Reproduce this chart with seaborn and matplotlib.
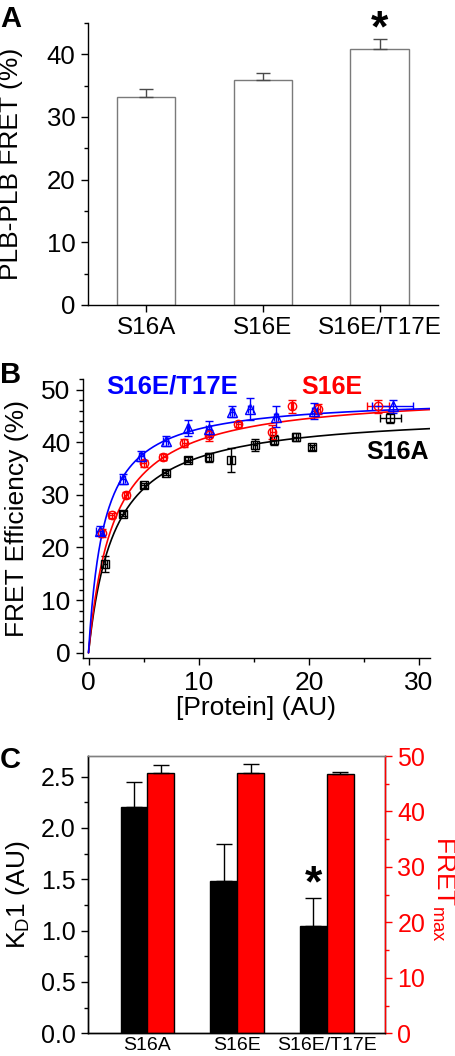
import numpy as np
import pandas as pd
import matplotlib
matplotlib.use("Agg")
import matplotlib.pyplot as plt
from matplotlib.ticker import MultipleLocator, FormatStrFormatter
import seaborn as sns

# ---- panel A: PLB-PLB FRET ----
mutants = ["S16A", "S16E", "S16E/T17E"]
plb_fret = [33.2, 35.9, 40.8]
plb_fret_err = [1.2, 1.1, 1.6]

# ---- panel B: binding curves ----
s16a_x = [1.5, 3.1, 5.0, 7.0, 9.0, 10.9, 12.9, 15.1, 16.8, 18.8, 20.3, 27.4]
s16a_y = [16.9, 26.4, 31.8, 34.2, 36.7, 37.1, 36.6, 39.5, 40.4, 41.0, 39.0, 44.6]
s16a_yerr = [1.5, 0.5, 0.5, 0.5, 0.5, 0.8, 2.3, 1.1, 1.0, 0.8, 0.4, 1.0]
s16a_xerr = [0.2, 0.2, 0.2, 0.2, 0.2, 0.2, 0.1, 0.2, 0.2, 0.2, 0.2, 0.95]

s16e_x = [1.2, 2.1, 3.4, 5.0, 6.8, 8.7, 10.9, 13.6, 16.7, 18.5, 20.8, 26.3]
s16e_y = [22.8, 26.1, 29.9, 36.0, 37.2, 39.8, 41.3, 43.4, 41.9, 46.8, 46.3, 46.8]
s16e_yerr = [0.8, 0.5, 0.6, 0.7, 0.6, 0.8, 1.0, 0.5, 1.3, 1.2, 0.9, 1.2]
s16e_xerr = [0.2, 0.2, 0.2, 0.2, 0.2, 0.2, 0.2, 0.2, 0.2, 0.1, 0.2, 1.0]

dbl_x = [1.0, 3.1, 4.8, 7.0, 9.0, 10.9, 13.0, 14.7, 17.0, 20.5, 27.6]
dbl_y = [23.2, 33.0, 37.4, 40.2, 42.7, 42.5, 45.8, 46.3, 44.8, 45.9, 46.8]
dbl_yerr = [0.8, 1.0, 1.0, 1.0, 1.6, 1.6, 1.0, 2.0, 2.0, 1.5, 1.3]
dbl_xerr = [0.3, 0.2, 0.2, 0.2, 0.1, 0.2, 0.2, 0.2, 0.2, 0.2, 1.9]

# hyperbolic fits: FRET = fmax * x / (kd + x)
fit_fmax = {"S16A": 45.8, "S16E": 49.6, "S16E/T17E": 48.5}
fit_kd = {"S16A": 2.35, "S16E": 2.29, "S16E/T17E": 1.41}

# ---- panel C: fit parameters ----
kd1 = [2.2, 1.48, 1.045]
kd1_err = [0.245, 0.36, 0.27]
fret_max = [46.9, 46.9, 46.7]
fret_max_err = [1.4, 1.6, 0.5]

BLUE = "#0000ff"
RED = "#ff0000"

sns.set_theme(style="ticks")
plt.rcParams["font.family"] = ["Liberation Sans", "DejaVu Sans"]
plt.rcParams.update({
    "axes.linewidth": 1.0,
    "xtick.major.size": 5, "ytick.major.size": 5,
    "xtick.minor.size": 3, "ytick.minor.size": 3,
    "xtick.major.width": 1, "ytick.major.width": 1,
    "xtick.minor.width": 1, "ytick.minor.width": 1,
    "xtick.color": "black", "ytick.color": "black",
    "axes.edgecolor": "black", "text.color": "black",
    "axes.labelcolor": "black",
    "mathtext.fontset": "custom", "mathtext.rm": "Liberation Sans",
    "mathtext.it": "Liberation Sans", "mathtext.bf": "Liberation Sans:bold",
})

W, H = 456, 1056
fig = plt.figure(figsize=(W / 100, H / 100), dpi=100)

def box(l, t, r, b):
    return [l / W, 1 - b / H, (r - l) / W, (b - t) / H]

# ================= A =================
axA = fig.add_axes(box(88, 23, 438, 305))
sns.barplot(x=mutants, y=plb_fret, ax=axA, color="white", saturation=1,
            edgecolor="#7a7a7a", linewidth=1, width=0.5)
axA.errorbar(range(3), plb_fret, yerr=[[0] * 3, plb_fret_err], fmt="none",
             ecolor="#4a4a4a", elinewidth=1, capsize=5, capthick=1)
axA.set_xlim(-0.5, 2.5)
axA.set_ylim(0, 45)
axA.yaxis.set_major_locator(MultipleLocator(10))
axA.yaxis.set_minor_locator(MultipleLocator(5))
axA.tick_params(axis="y", labelsize=18.5, pad=4)
axA.tick_params(axis="x", labelsize=17.5, pad=4)
sns.despine(ax=axA)
axA.set_ylabel("PLB-PLB FRET (%)", fontsize=19)
axA.yaxis.set_label_coords(-0.185, 0.5)
axA.text(2, 42.0, "*", ha="center", va="baseline", fontsize=32,
         fontweight="bold")

# ================= B =================
axB = fig.add_axes(box(83, 379, 430, 658))
series = [
    ("S16A", s16a_x, s16a_y, s16a_xerr, s16a_yerr, "s", "black", 5.5),
    ("S16E", s16e_x, s16e_y, s16e_xerr, s16e_yerr, "o", RED, 6),
    ("S16E/T17E", dbl_x, dbl_y, dbl_xerr, dbl_yerr, "^", BLUE, 7),
]
xfit = np.linspace(0, 31, 400)
for name, xs, ys, xe, ye, mk, c, ms in series:
    axB.errorbar(xs, ys, yerr=ye, xerr=xe, fmt=mk, mfc="none", mec=c,
                 ecolor=c, ms=ms, mew=1, elinewidth=1, capsize=3, capthick=1)
for name, xs, ys, xe, ye, mk, c, ms in series:
    fit = pd.DataFrame({"x": xfit,
                        "y": fit_fmax[name] * xfit / (fit_kd[name] + xfit)})
    sns.lineplot(data=fit, x="x", y="y", ax=axB, color=c, lw=1.2)
axB.set_xlim(-0.5, 31)
axB.set_ylim(-1, 52)
axB.xaxis.set_major_locator(MultipleLocator(10))
axB.xaxis.set_minor_locator(MultipleLocator(5))
axB.yaxis.set_major_locator(MultipleLocator(10))
axB.yaxis.set_minor_locator(MultipleLocator(2))
axB.tick_params(labelsize=19, pad=4)
sns.despine(ax=axB)
axB.set_xlabel("[Protein] (AU)", fontsize=19)
axB.set_ylabel("FRET Efficiency (%)", fontsize=19)
axB.xaxis.set_label_coords(0.5, -0.135)
axB.yaxis.set_label_coords(-0.155, 0.5)
axB.text(1.6, 50.5, "S16E/T17E", color=BLUE, fontsize=18.5,
         fontweight="bold", va="center", ha="left")
axB.text(19.3, 50.5, "S16E", color=RED, fontsize=18,
         fontweight="bold", va="center", ha="left")
axB.text(30.9, 38.2, "S16A", color="black", fontsize=18,
         fontweight="bold", va="center", ha="right")

# ================= C =================
axC = fig.add_axes(box(88.3, 756, 385, 1033.3))
pos = np.arange(3)
sns.barplot(x=pos - 0.15, y=kd1, ax=axC, native_scale=True, width=0.3,
            color="black", saturation=1, edgecolor="black", linewidth=1)
axC.errorbar(pos - 0.15, kd1, yerr=[[0] * 3, kd1_err], fmt="none",
             ecolor="black", elinewidth=1, capsize=6, capthick=1)
axC2 = axC.twinx()
sns.barplot(x=pos + 0.15, y=fret_max, ax=axC2, native_scale=True, width=0.3,
            color=RED, saturation=1, edgecolor="black", linewidth=1)
axC2.errorbar(pos + 0.15, fret_max, yerr=[[0] * 3, fret_max_err], fmt="none",
              ecolor="black", elinewidth=1, capsize=6, capthick=1)
for a in (axC, axC2):
    a.set_xlim(-0.66, 2.65)
axC.set_xticks(pos)
axC.set_xticklabels(mutants)
axC.set_ylim(0, 2.7)
axC.yaxis.set_major_locator(MultipleLocator(0.5))
axC.yaxis.set_minor_locator(MultipleLocator(0.25))
axC.yaxis.set_major_formatter(FormatStrFormatter("%.1f"))
axC.tick_params(axis="y", labelsize=18, pad=4)
axC.tick_params(axis="x", labelsize=14, length=0, pad=3)
axC2.set_ylim(0, 50)
axC2.yaxis.set_major_locator(MultipleLocator(10))
axC2.yaxis.set_minor_locator(MultipleLocator(5))
axC2.tick_params(axis="y", which="both", colors=RED, labelsize=18, pad=4)
axC2.spines["right"].set_color(RED)
axC2.spines["top"].set_color("#808080")
axC.spines["top"].set_color("#808080")
axC.set_xlabel("")
axC.set_ylabel("K$_\\mathrm{D}$1 (AU)", fontsize=19)
axC.yaxis.set_label_coords(-0.19, 0.5)
axC2.set_ylabel("FRET$_\\mathrm{max}$", fontsize=19, color=RED, rotation=270,
                va="bottom")
axC2.yaxis.set_label_coords(1.152, 0.52)
axC.text(1.85, 1.33, "*", ha="center", va="baseline", fontsize=32,
         fontweight="bold")

# panel letters
for letter, base in (("A", 26.7), ("B", 383), ("C", 768)):
    fig.text(0.0, 1 - base / H, letter, fontsize=21, fontweight="bold",
             ha="left", va="baseline")

fig.savefig("out.png", dpi=100)
